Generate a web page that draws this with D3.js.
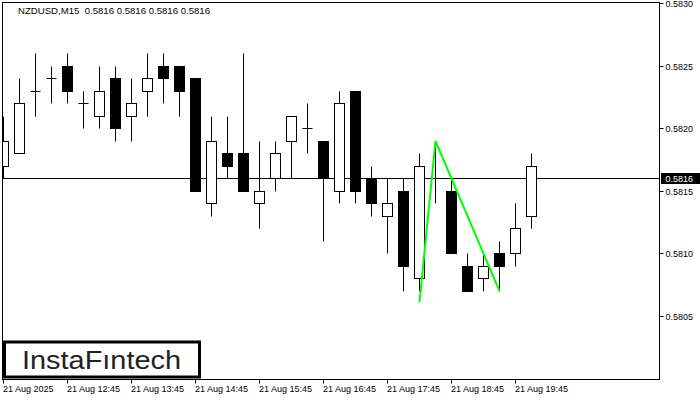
<!DOCTYPE html>
<html>
<head>
<meta charset="utf-8">
<script src="https://cdn.jsdelivr.net/npm/d3@7"></script>
<style>
  html, body { margin: 0; padding: 0; background: #fff; }
  svg { display: block; }
  text { font-family: "Liberation Sans", Arial, sans-serif; }
</style>
</head>
<body>
<svg id="chart" width="700" height="400"></svg>
<script>
// ---- data ----
const symbolTitle = "NZDUSD,M15  0.5816 0.5816 0.5816 0.5816";
const opens  = [0.5817,0.5818,0.5823,0.5824,0.5825,0.5822,0.5821,0.5824,0.5821,0.5823,0.5825,0.5825,0.5824,0.5814,0.5818,0.5818,0.5814,0.5816,0.5819,0.5820,0.5819,0.5815,0.5823,0.5816,0.5813,0.5815,0.5808,0.5816,0.5815,0.5809,0.5808,0.5810,0.5810,0.5813];
const highs  = [0.5821,0.5824,0.5826,0.5825,0.5826,0.5823,0.5825,0.5825,0.5824,0.5826,0.5826,0.5825,0.5824,0.5821,0.5821,0.5826,0.5819,0.5819,0.5821,0.5822,0.5819,0.5823,0.5823,0.5817,0.5816,0.5816,0.5818,0.5819,0.5816,0.5810,0.5810,0.5811,0.5814,0.5818];
const lows   = [0.5816,0.5818,0.5821,0.5822,0.5822,0.5820,0.5820,0.5819,0.5819,0.5821,0.5822,0.5821,0.5815,0.5813,0.5816,0.5815,0.5812,0.5815,0.5816,0.5818,0.5811,0.5814,0.5814,0.5813,0.5810,0.5807,0.5807,0.5814,0.5810,0.5807,0.5807,0.5807,0.5809,0.5812];
const closes = [0.5819,0.5822,0.5823,0.5824,0.5823,0.5822,0.5823,0.5820,0.5822,0.5824,0.5824,0.5823,0.5815,0.5819,0.5817,0.5815,0.5815,0.5818,0.5821,0.5820,0.5816,0.5822,0.5815,0.5814,0.5814,0.5809,0.5817,0.5816,0.5810,0.5807,0.5809,0.5809,0.5812,0.5817];
const timeTickIndex  = [0, 4, 8, 12, 16, 20, 24, 28, 32];
const timeTickLabels = ["21 Aug 2025","21 Aug 12:45","21 Aug 13:45","21 Aug 14:45","21 Aug 15:45","21 Aug 16:45","21 Aug 17:45","21 Aug 18:45","21 Aug 19:45"];
const priceTicks = [0.5805, 0.5810, 0.5815, 0.5820, 0.5825, 0.5830];
const bidPrice = 0.5816;
const patternIndex = [26, 27, 31];
const patternPrice = [0.58061, 0.5819, 0.5807];
const logoText = "InstaF\u0131ntech";

// ---- layout ----
const L = 2.5, T = 2.5, R = 659.5, B = 379.5;
const svg = d3.select("#chart");
const x = d3.scaleLinear().domain([0, 41]).range([3.5, 659.5]);
const y = d3.scaleLinear().domain([0.5800, 0.5830]).range([378.5, 3.5]);
const py = v => Math.floor(y(v) + 1e-6) + 0.5;
const px = i => Math.floor(x(i)) + 0.5;

svg.append("rect").attr("width", 700).attr("height", 400).attr("fill", "#fff");

svg.append("defs").append("clipPath").attr("id", "plot")
  .append("rect").attr("x", 3).attr("y", 3).attr("width", R - 3).attr("height", B - 3);

const plot = svg.append("g").attr("clip-path", "url(#plot)");

// bid line
plot.append("line").attr("x1", L).attr("x2", R)
  .attr("y1", py(bidPrice)).attr("y2", py(bidPrice))
  .attr("stroke", "#000").attr("stroke-width", 1);

const candles = opens.map((o, i) => ({ i, o, h: highs[i], l: lows[i], c: closes[i] }));
const cg = plot.selectAll("g.candle").data(candles).join("g").attr("class", "candle");

cg.append("line")
  .attr("x1", d => px(d.i)).attr("x2", d => px(d.i))
  .attr("y1", d => py(d.h)).attr("y2", d => py(d.l))
  .attr("stroke", "#000").attr("stroke-width", 1);

cg.filter(d => d.o !== d.c).append("rect")
  .attr("x", d => px(d.i) - 5).attr("width", 10)
  .attr("y", d => py(Math.max(d.o, d.c)))
  .attr("height", d => py(Math.min(d.o, d.c)) - py(Math.max(d.o, d.c)))
  .attr("fill", d => d.c > d.o ? "#fff" : "#000")
  .attr("stroke", "#000").attr("stroke-width", 1);

cg.filter(d => d.o === d.c).append("line")
  .attr("x1", d => px(d.i) - 5).attr("x2", d => px(d.i) + 5)
  .attr("y1", d => py(d.o)).attr("y2", d => py(d.o))
  .attr("stroke", "#000").attr("stroke-width", 1);

// pattern line
const pts = patternIndex.map((idx, k) => [x(idx), y(patternPrice[k])]);
plot.append("path").attr("d", d3.line()(pts))
  .attr("fill", "none").attr("stroke", "#00ff00").attr("stroke-width", 2);

// frame
svg.append("rect").attr("x", L).attr("y", T).attr("width", R - L).attr("height", B - T)
  .attr("fill", "none").attr("stroke", "#000").attr("stroke-width", 1);

// right axis
const ra = svg.append("g");
priceTicks.forEach(p => {
  const yy = py(p);
  ra.append("line").attr("x1", R).attr("x2", R + 4).attr("y1", yy).attr("y2", yy).attr("stroke", "#000");
  ra.append("text").attr("x", 665.5).attr("y", yy + 3.5).attr("font-size", 9).attr("fill", "#000")
    .text(d3.format(".4f")(p));
});
// bid tag
svg.append("rect").attr("x", 661).attr("y", py(bidPrice) - 5.5).attr("width", 39).attr("height", 11).attr("fill", "#000");
svg.append("text").attr("x", 665.5).attr("y", py(bidPrice) + 3.5).attr("font-size", 9).attr("fill", "#fff")
  .text(d3.format(".4f")(bidPrice));

// bottom axis
const ba = svg.append("g");
timeTickIndex.forEach((idx, k) => {
  const xx = px(idx);
  ba.append("line").attr("x1", xx).attr("x2", xx).attr("y1", B).attr("y2", B + 4).attr("stroke", "#000");
  ba.append("text").attr("x", xx - 0.5).attr("y", 392).attr("font-size", 9).attr("fill", "#000")
    .text(timeTickLabels[k]);
});

// title
svg.append("text").attr("x", 18).attr("y", 14).attr("font-size", 9.6).attr("fill", "#000")
  .style("white-space", "pre").text(symbolTitle);

// logo
svg.append("rect").attr("x", 4.5).attr("y", 342).attr("width", 195).attr("height", 35)
  .attr("fill", "#fff").attr("stroke", "#000").attr("stroke-width", 3);
svg.append("text").attr("x", 22).attr("y", 369)
  .attr("font-family", "'Open Sans', 'Noto Sans', sans-serif")
  .attr("font-size", 26).attr("font-weight", 500).attr("fill", "#222")
  .attr("textLength", 159).attr("lengthAdjust", "spacingAndGlyphs")
  .text(logoText);
</script>
</body>
</html>
